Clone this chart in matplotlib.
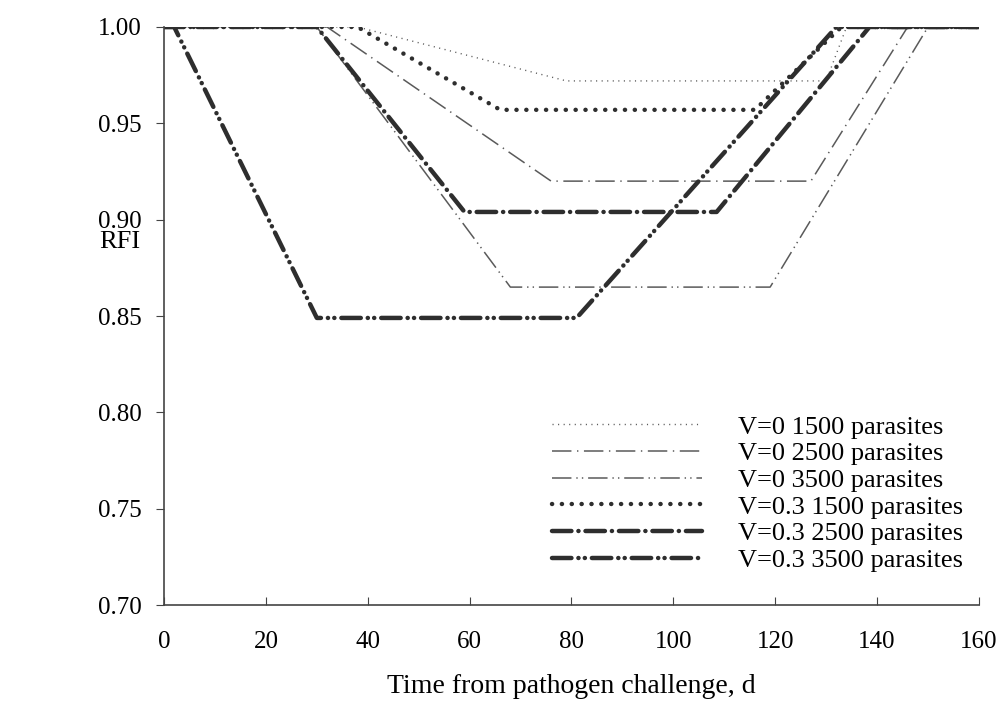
import matplotlib
matplotlib.use("Agg")
from matplotlib import pyplot as plt

plt.rcParams['font.family'] = ['Liberation Serif', 'DejaVu Serif']
plt.rcParams['lines.scale_dashes'] = False

# curves: (time, RFI) corner points
labels = ["V=0 1500 parasites", "V=0 2500 parasites", "V=0 3500 parasites",
          "V=0.3 1500 parasites", "V=0.3 2500 parasites", "V=0.3 3500 parasites"]

t_v0_1500 = [0, 38, 79, 130, 134, 160]
r_v0_1500 = [1.0, 1.0, 0.972, 0.972, 1.0, 1.0]

t_v0_2500 = [0, 32, 76, 127, 146, 160]
r_v0_2500 = [1.0, 1.0, 0.920, 0.920, 1.0, 1.0]

t_v0_3500 = [0, 30, 68, 119, 150, 160]
r_v0_3500 = [1.0, 1.0, 0.865, 0.865, 1.0, 1.0]

t_v3_1500 = [0, 38, 66, 116, 133, 160]
r_v3_1500 = [1.0, 1.0, 0.957, 0.957, 1.0, 1.0]

t_v3_2500 = [0, 30, 59, 108.5, 138.5, 160]
r_v3_2500 = [1.0, 1.0, 0.904, 0.904, 1.0, 1.0]

t_v3_3500 = [0, 2, 30, 81, 132, 160]
r_v3_3500 = [1.0, 1.0, 0.849, 0.849, 1.0, 1.0]

x_ticks = [0, 20, 40, 60, 80, 100, 120, 140, 160]
y_ticks = [0.70, 0.75, 0.80, 0.85, 0.90, 0.95, 1.00]

fig = plt.figure(figsize=(10.02, 7.06), dpi=100)
ax = fig.add_axes([0.1637, 0.143, 0.8133, 0.8188])

thin = "#5a5a5a"
thick = "#2e2e2e"
ax.plot(t_v0_1500, r_v0_1500, color=thin, lw=1.0, linestyle=(0, (0.8, 3.2)), label=labels[0])
ax.plot(t_v0_2500, r_v0_2500, color=thin, lw=1.1, linestyle=(0, (14, 4, 1, 4)), label=labels[1])
ax.plot(t_v0_3500, r_v0_3500, color=thin, lw=1.1, linestyle=(0, (14, 3.5, 1, 3, 1, 3.5)), label=labels[2])
ax.plot(t_v3_1500, r_v3_1500, color=thick, lw=3.2, linestyle=(0, (0.1, 7)),
        dash_capstyle='round', label=labels[3])
ax.plot(t_v3_2500, r_v3_2500, color=thick, lw=3.2, linestyle=(0, (14, 5, 0.1, 5)),
        dash_capstyle='round', label=labels[4])
ax.plot(t_v3_3500, r_v3_3500, color=thick, lw=3.2, linestyle=(0, (14, 5, 0.1, 4.5, 0.1, 5)),
        dash_capstyle='round', label=labels[5])

ax.set_xlim(0, 160)
ax.set_ylim(0.70, 1.00)
ax.set_xticks(x_ticks)
ax.set_yticks(y_ticks)
ax.set_yticklabels([f"{v:.2f}" for v in y_ticks])
ax.tick_params(axis='x', direction='in', length=6, labelsize=18, pad=19, color="#444")
ax.tick_params(axis='y', direction='out', length=6, labelsize=18, pad=10, color="#444")
for s in ['top', 'right']:
    ax.spines[s].set_visible(False)
for s in ['left', 'bottom']:
    ax.spines[s].set_color("#444")
    ax.spines[s].set_linewidth(1.2)

ax.set_xlabel("Time from pathogen challenge, d", fontsize=20, labelpad=15)
ax.set_ylabel("RFI", fontsize=19, rotation=0, ha='center', va='center')
ax.yaxis.set_label_coords(-0.054, 0.628)

ax.legend(loc='lower right', bbox_to_anchor=(1.0, 0.03), frameon=False, fontsize=19,
          handlelength=5.7, handletextpad=1.35, labelspacing=0.12, borderaxespad=0.2)

fig.savefig("out.png", dpi=100, facecolor="white")
